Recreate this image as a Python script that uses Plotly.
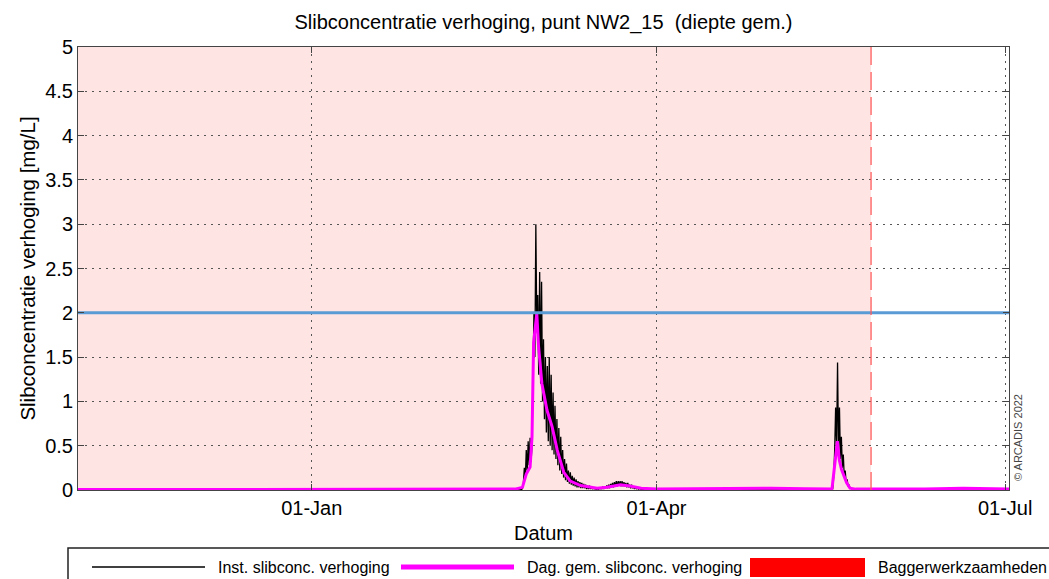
import pandas as pd
import plotly.graph_objects as go

# ---------------- data ----------------
title_text = "Slibconcentratie verhoging, punt NW2_15  (diepte gem.)"
y_label = "Slibconcentratie verhoging [mg/L]"
x_label = "Datum"
x_range = ["2021-11-01", "2022-07-02"]
x_tick_dates = ["2022-01-01", "2022-04-01", "2022-07-01"]
x_tick_labels = ["01-Jan", "01-Apr", "01-Jul"]
threshold = 2.0
dredging_start = "2021-11-01"
dredging_end = "2022-05-27"

# instantaneous values, event 1 (6-hourly, starting 2022-02-24 00:00)
inst_ev1_start = "2022-02-24 00:00"
inst_ev1_values = [
    0.0, 0.0, 0.01, 0.0,
    0.02, 0.08, 0.25, 0.12,
    0.45, 0.22, 0.55, 0.28,
    0.59, 0.32, 0.5, 1.1,
    2.0, 1.5, 3.0, 1.8,
    2.2, 1.3, 2.46, 1.2,
    2.35, 1.0, 1.7, 0.8,
    1.5, 0.65, 1.4, 0.55,
    1.5, 0.5, 1.3, 0.45,
    1.1, 0.4, 0.95, 0.35,
    0.8, 0.28, 0.7, 0.22,
    0.6, 0.18, 0.45, 0.14,
    0.35, 0.11, 0.3, 0.09,
    0.22, 0.07, 0.2, 0.06,
    0.16, 0.05, 0.14, 0.04,
    0.12, 0.03, 0.1, 0.03,
    0.09, 0.02, 0.08, 0.02,
    0.07, 0.02, 0.06, 0.01,
    0.05, 0.01, 0.05, 0.01,
    0.04, 0.01, 0.03, 0.01,
    0.03, 0.0, 0.03, 0.0,
    0.03, 0.01, 0.03, 0.01,
    0.04, 0.01, 0.04, 0.02,
    0.05, 0.02, 0.06, 0.02,
    0.07, 0.03, 0.08, 0.03,
    0.09, 0.04, 0.1, 0.04,
    0.1, 0.05, 0.1, 0.04,
    0.1, 0.04, 0.09, 0.04,
    0.08, 0.03, 0.08, 0.03,
    0.06, 0.02, 0.06, 0.02,
    0.04, 0.01, 0.04, 0.01,
    0.03, 0.01, 0.02, 0.01,
    0.01, 0.0, 0.01, 0.0,
]
# instantaneous values, event 2 (6-hourly, starting 2022-05-16 00:00)
inst_ev2_start = "2022-05-16 00:00"
inst_ev2_values = [
    0.0, 0.0, 0.0, 0.0,
    0.02, 0.15, 0.45, 0.93,
    0.5, 1.44, 0.45, 0.93,
    0.35, 0.6, 0.25, 0.4,
    0.15, 0.22, 0.08, 0.12,
    0.04, 0.06, 0.02, 0.02,
    0.01, 0.0, 0.0, 0.0,
]
# instantaneous values outside events
inst_base_dates = ["2021-11-01 00:00", "2022-02-23 18:00", "2022-03-29 06:00", "2022-05-15 18:00",
                   "2022-05-23 06:00", "2022-07-02 00:00"]
inst_base_values = [0.0, 0.0, 0.0, 0.0, 0.0, 0.0]

# daily mean
mean_dates = [
    "2021-11-01 00:00", "2021-12-01 00:00", "2022-01-15 00:00", "2022-02-15 00:00", "2022-02-23 00:00",
    "2022-02-25 00:00", "2022-02-25 12:00", "2022-02-26 00:00", "2022-02-26 12:00",
    "2022-02-27 00:00", "2022-02-27 12:00", "2022-02-27 22:00", "2022-02-28 18:00",
    "2022-03-01 05:00", "2022-03-02 02:00", "2022-03-03 10:00", "2022-03-04 17:00",
    "2022-03-06 02:00", "2022-03-07 19:00", "2022-03-09 12:00", "2022-03-12 05:00",
    "2022-03-16 12:00", "2022-03-19 00:00", "2022-03-22 15:00", "2022-03-25 00:00",
    "2022-03-28 00:00", "2022-04-01 00:00", "2022-04-15 00:00", "2022-05-01 00:00", "2022-05-10 00:00",
    "2022-05-16 19:00", "2022-05-18 05:00", "2022-05-18 17:00", "2022-05-19 07:00",
    "2022-05-20 15:00", "2022-05-21 12:00", "2022-05-23 00:00", "2022-06-10 00:00", "2022-06-20 00:00",
    "2022-07-02 00:00",
]
mean_values = [
    0.005, 0.005, 0.005, 0.01, 0.01,
    0.03, 0.1, 0.18, 0.22,
    0.26, 0.6, 1.66, 1.99,
    1.62, 1.2, 0.9, 0.72,
    0.45, 0.2, 0.1, 0.05,
    0.02, 0.03, 0.06, 0.045,
    0.02, 0.01, 0.015, 0.02, 0.015,
    0.01, 0.55, 0.34, 0.23,
    0.08, 0.02, 0.01, 0.01, 0.02,
    0.01,
]

legend_labels = ["Inst. slibconc. verhoging", "Dag. gem. slibconc. verhoging", "Baggerwerkzaamheden"]

# ---------------- build ----------------
ev1_t = pd.date_range(inst_ev1_start, periods=len(inst_ev1_values), freq="6h")
ev2_t = pd.date_range(inst_ev2_start, periods=len(inst_ev2_values), freq="6h")
inst = pd.concat([
    pd.Series(inst_base_values, index=pd.to_datetime(inst_base_dates, format="mixed")),
    pd.Series(inst_ev1_values, index=ev1_t),
    pd.Series(inst_ev2_values, index=ev2_t),
]).sort_index()
mean_t = pd.to_datetime(mean_dates, format="mixed")

FONT = "Liberation Sans, Arial, sans-serif"
W, H = 1049, 579
L, R, T, B = 78, 1009, 47, 490
FS = 20      # axis / title font size
LFS = 16     # legend font size

def px_x(p):
    return (p - L) / (R - L)

def px_y(p):
    return (B - p) / (B - T)

fig = go.Figure()
fig.add_trace(go.Scatter(x=inst.index, y=inst.values, mode="lines",
                         line=dict(color="black", width=1.3), showlegend=False))
fig.add_trace(go.Scatter(x=mean_t, y=mean_values, mode="lines",
                         line=dict(color="#FF00FF", width=3), showlegend=False))
fig.add_trace(go.Scatter(x=x_range, y=[threshold, threshold], mode="lines",
                         line=dict(color="#5B9BD5", width=3), showlegend=False))

shapes = [
    dict(type="rect", xref="x", yref="paper", x0=dredging_start, x1=dredging_end, y0=0, y1=1,
         fillcolor="rgb(255,228,228)", line=dict(width=0), layer="below"),
    dict(type="line", xref="x", yref="paper", x0=dredging_end, x1=dredging_end, y0=0, y1=1,
         line=dict(color="rgba(255,90,90,0.85)", width=1.5, dash="18px,7px"), layer="above"),
    # legend box
    dict(type="rect", xref="paper", yref="paper", x0=px_x(68), x1=px_x(1062), y0=px_y(548), y1=px_y(600),
         line=dict(color="#222", width=1.5), fillcolor="white", layer="above"),
    dict(type="line", xref="paper", yref="paper", x0=px_x(92), x1=px_x(205), y0=px_y(567), y1=px_y(567),
         line=dict(color="black", width=1.5)),
    dict(type="line", xref="paper", yref="paper", x0=px_x(401), x1=px_x(514), y0=px_y(567), y1=px_y(567),
         line=dict(color="#FF00FF", width=5)),
    dict(type="rect", xref="paper", yref="paper", x0=px_x(750), x1=px_x(865), y0=px_y(577), y1=px_y(558),
         line=dict(width=0), fillcolor="#FF0000"),
]

annotations = [
    dict(text=legend_labels[0], xref="paper", yref="paper", x=px_x(216), y=px_y(567),
         xanchor="left", yanchor="middle", showarrow=False, font=dict(size=LFS, color="black", family=FONT)),
    dict(text=legend_labels[1], xref="paper", yref="paper", x=px_x(525), y=px_y(567),
         xanchor="left", yanchor="middle", showarrow=False, font=dict(size=LFS, color="black", family=FONT)),
    dict(text=legend_labels[2], xref="paper", yref="paper", x=px_x(876), y=px_y(567),
         xanchor="left", yanchor="middle", showarrow=False, font=dict(size=LFS, color="black", family=FONT)),
    dict(text="© ARCADIS 2022", xref="paper", yref="paper", x=px_x(1018), y=px_y(438),
         xanchor="center", yanchor="middle", textangle=-90, showarrow=False,
         font=dict(size=11, color="#444", family=FONT)),
]

axis_common = dict(
    showgrid=True, gridcolor="#555", gridwidth=1, griddash="2px,5px",
    showline=True, linecolor="#444", linewidth=1, mirror="ticks",
    ticks="inside", ticklen=6, tickcolor="#444", zeroline=False,
    tickfont=dict(size=FS, color="black", family=FONT),
)

fig.update_layout(
    width=W, height=H,
    margin=dict(l=L, r=W - R, t=T, b=H - B),
    paper_bgcolor="white", plot_bgcolor="white",
    font=dict(family=FONT, color="black"),
    title=dict(text=title_text, x=0.5, xref="paper", xanchor="center", y=1 - 22 / H, yanchor="middle",
               font=dict(size=FS, color="black", family=FONT)),
    xaxis=dict(type="date", range=x_range, tickvals=x_tick_dates, ticktext=x_tick_labels,
               title=dict(text=x_label, font=dict(size=FS, color="black", family=FONT), standoff=7),
               **axis_common),
    yaxis=dict(range=[0, 5], dtick=0.5, tick0=0,
               title=dict(text=y_label, font=dict(size=20.5, color="black", family=FONT), standoff=4),
               **axis_common),
    shapes=shapes, annotations=annotations, showlegend=False,
)

fig.write_html("out.html", config={"displayModeBar": False},
               post_script="document.body.style.margin='0';document.body.style.overflow='hidden';")
